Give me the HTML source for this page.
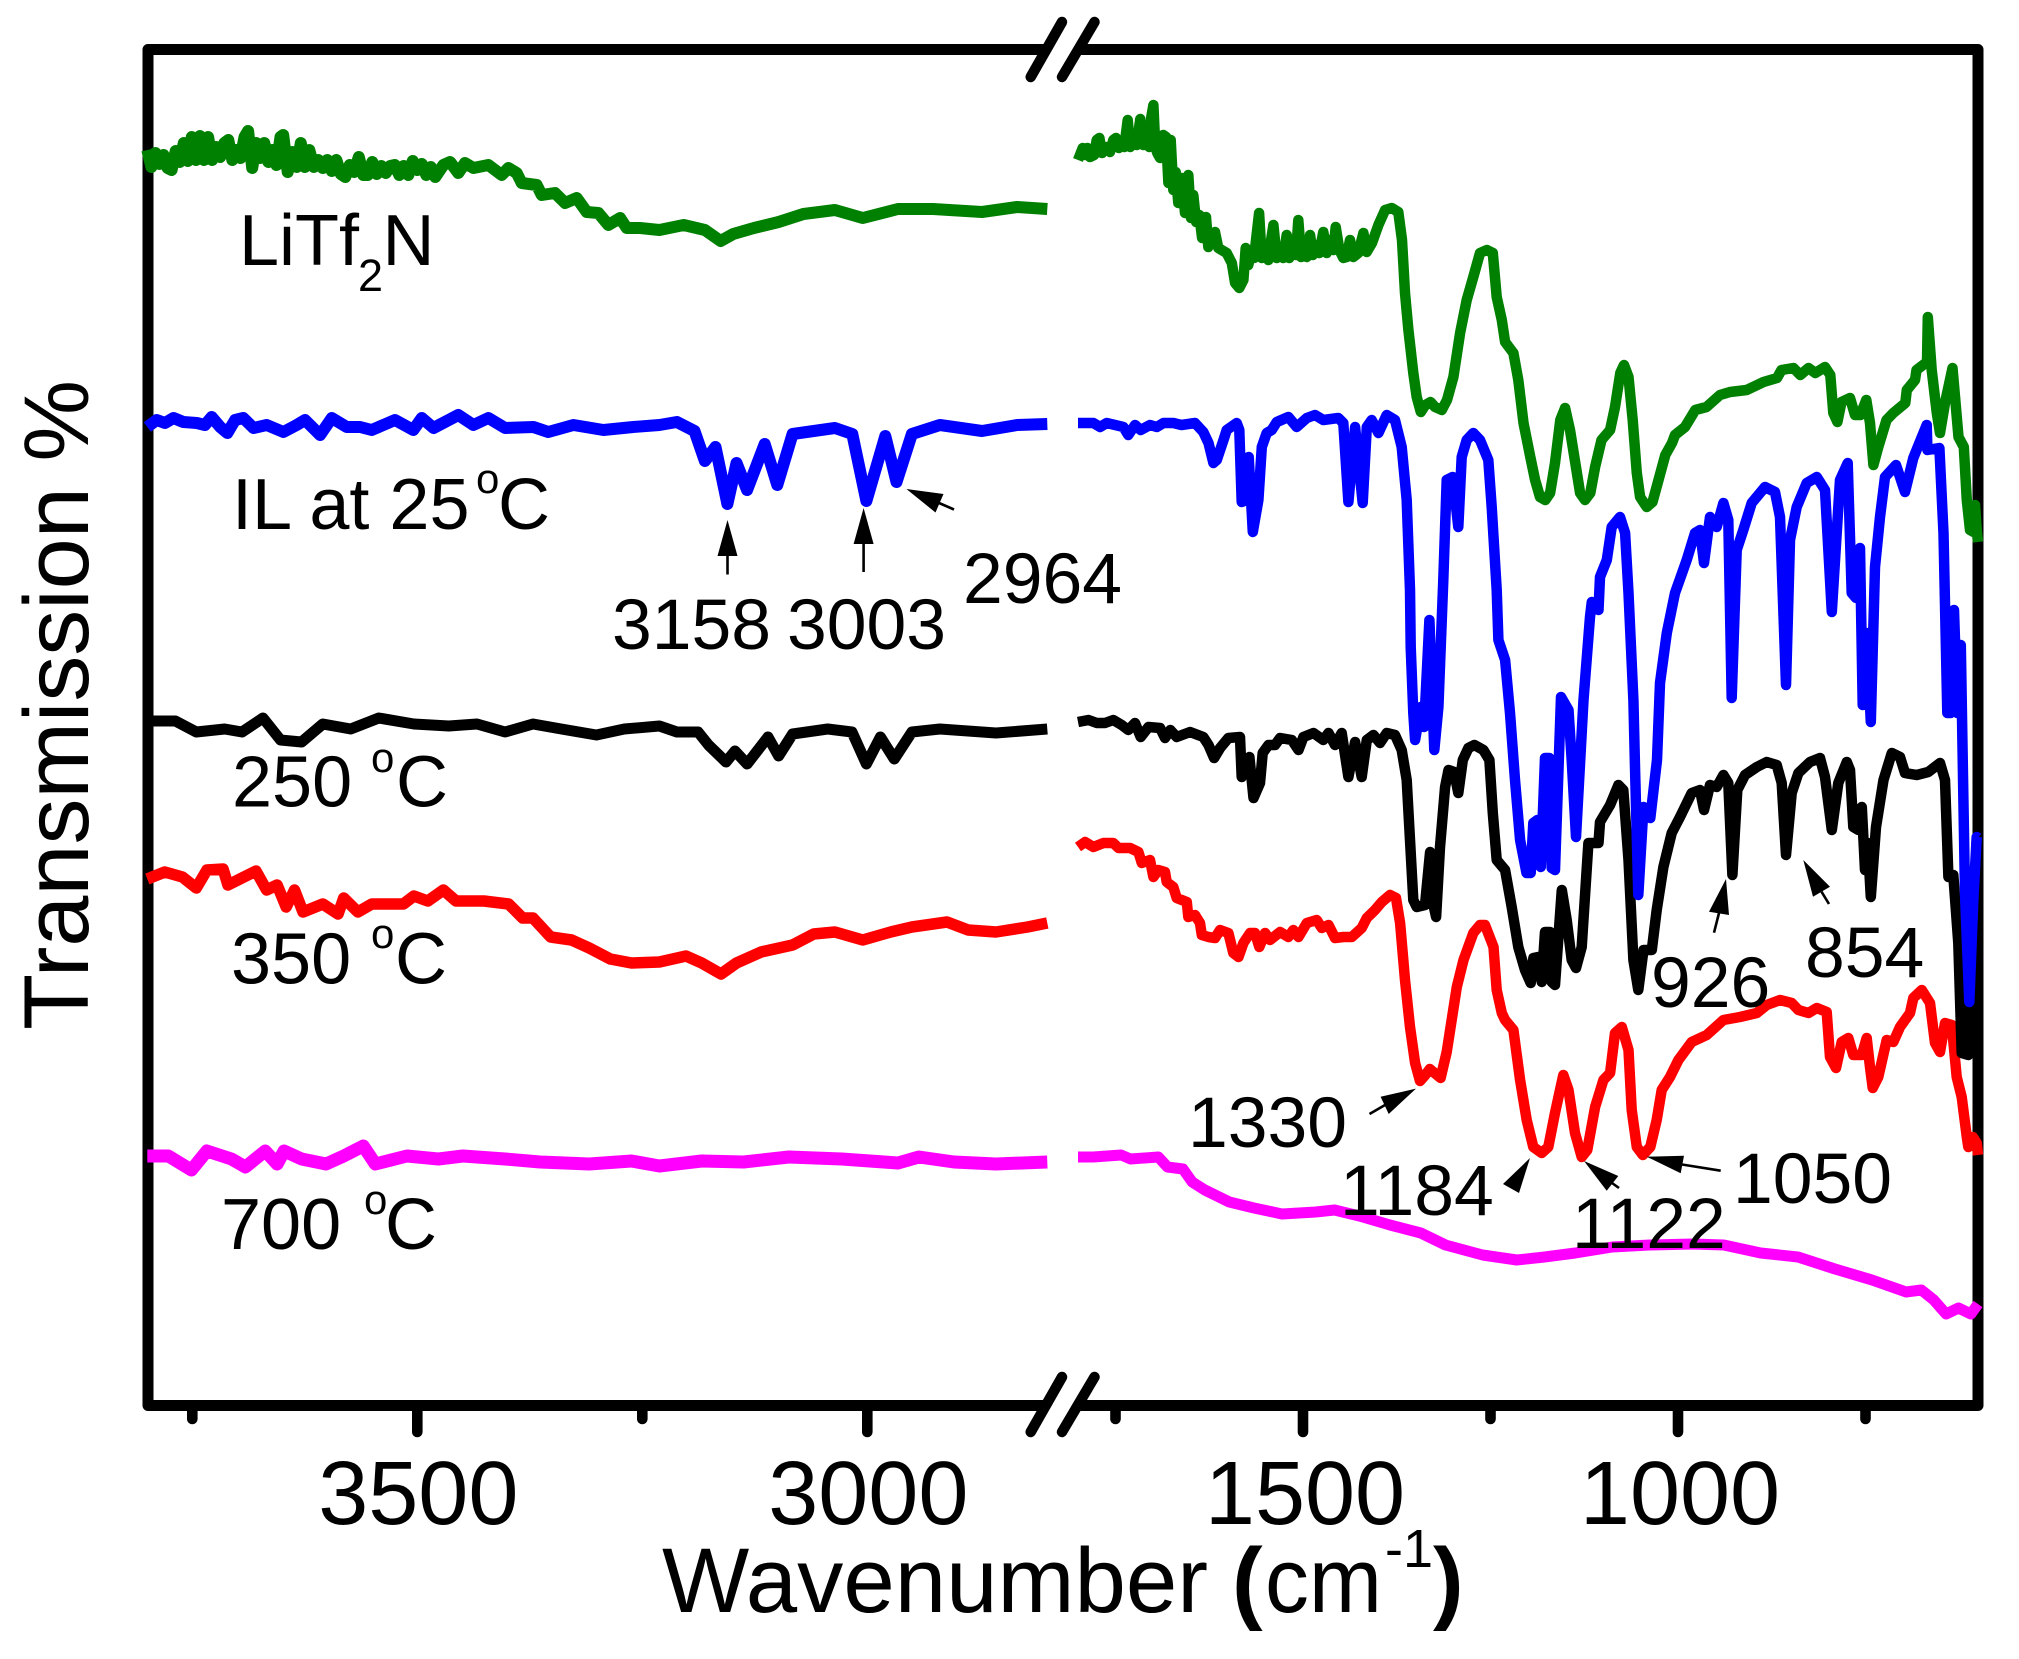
<!DOCTYPE html>
<html lang="en">
<head>
<meta charset="utf-8">
<title>FTIR spectra - Transmission vs Wavenumber</title>
<style>
html,body{margin:0;padding:0;background:#fff;}
svg{display:block;}
text{font-family:"Liberation Sans",Arial,sans-serif;fill:#000;}
.sp{fill:none;stroke-linejoin:round;stroke-linecap:butt;}
.ar{stroke:#000;stroke-width:2.6;fill:none;}
</style>
</head>
<body>
<svg id="chart" xmlns="http://www.w3.org/2000/svg" width="2019" height="1659" viewBox="0 0 2019 1659">
  <rect x="0" y="0" width="2019" height="1659" fill="#fff"/>
  <g fill="none" stroke="#000" stroke-width="11" stroke-linejoin="round">
    <path d="M1046.6 49.5H148V1405.5H1046.6"/>
    <path d="M1078 49.5H1978V1405.5H1078"/>
  </g>
  <g id="ticks"></g>
  <g stroke="#000" stroke-width="10.5" stroke-linecap="round">
    <line x1="1030.7" y1="77" x2="1062" y2="22"/>
    <line x1="1062" y1="77" x2="1094.5" y2="22"/>
    <line x1="1030.7" y1="1432" x2="1062" y2="1377"/>
    <line x1="1062" y1="1432" x2="1094.5" y2="1377"/>
  </g>
  <g id="series"></g>

  <g font-size="72">
    <g>
      <text x="239" y="265">LiTf</text>
      <text x="358" y="291" font-size="45">2</text>
      <text x="382.5" y="265">N</text>
    </g>
    <g>
      <text x="232" y="529">IL at 25</text>
      <text x="476" y="493" font-size="42">o</text>
      <text x="498" y="529">C</text>
    </g>
    <g>
      <text x="232" y="806.5">250</text>
      <text x="371" y="772" font-size="42">o</text>
      <text x="396" y="806.5">C</text>
    </g>
    <g>
      <text x="231" y="983.5">350</text>
      <text x="371" y="948" font-size="42">o</text>
      <text x="395" y="983.5">C</text>
    </g>
    <g>
      <text x="221" y="1249">700</text>
      <text x="364" y="1214" font-size="42">o</text>
      <text x="385" y="1249">C</text>
    </g>
  </g>

  <g font-size="71.5">
    <text x="612" y="649">3158</text>
    <text x="787" y="649">3003</text>
    <text x="963" y="603">2964</text>
    <text x="1651" y="1007">926</text>
    <text x="1805" y="977">854</text>
    <text x="1733" y="1203">1050</text>
    <text x="1572" y="1248">1122</text>
    <text x="1340" y="1215">1184</text>
    <text x="1188" y="1147">1330</text>

    <g><line class="ar" x1="727.5" y1="555" x2="727.5" y2="574.5"/><polygon points="727.5,520 717.5,556 737.5,556"/></g>
    <g><line class="ar" x1="863.6" y1="543" x2="863.6" y2="572"/><polygon points="863.6,508 853.6,544 873.6,544"/></g>
    <g><line class="ar" x1="939" y1="503" x2="954" y2="509.5"/><polygon points="906.4,489 935.5,512.5 943.5,494"/></g>
    <g><line class="ar" x1="1719" y1="913" x2="1714" y2="932.7"/><polygon points="1726,879 1709,911.7 1729,915"/></g>
    <g><line class="ar" x1="1821.5" y1="891.7" x2="1829" y2="904"/><polygon points="1803.3,860 1813,896.7 1830,886.7"/></g>
    <g><line class="ar" x1="1682" y1="1164.5" x2="1720.7" y2="1170.7"/><polygon points="1646.7,1156.7 1684,1155.7 1680.7,1173.3"/></g>
    <g><line class="ar" x1="1612" y1="1183" x2="1619" y2="1188"/><polygon points="1584,1161 1618.3,1176 1606.7,1190.7"/></g>
    <g><polygon points="1530,1158 1503,1184 1519,1193"/></g>
    <g><line class="ar" x1="1385" y1="1105" x2="1369.5" y2="1114"/><polygon points="1416,1088.6 1380.6,1096.7 1388.7,1114"/></g>
  </g>

  <g id="ticklabels" font-size="90"></g>

  <g font-size="92">
    <text x="662" y="1612" textLength="546" lengthAdjust="spacingAndGlyphs">Wavenumber</text>
    <text x="1232" y="1612" font-weight="700">(</text>
    <text x="1265" y="1612" textLength="117" lengthAdjust="spacingAndGlyphs">cm</text>
    <text x="1385" y="1567" font-size="54">-1</text>
    <text x="1433" y="1612" font-weight="700">)</text>
  </g>
  <text x="88" y="1030" font-size="92" textLength="650" lengthAdjust="spacingAndGlyphs" transform="rotate(-90 88 1030)">Transmission %</text>
</svg>

<script>
/* Tick values, wavenumber in cm-1 */
const highMajorTicks = [3500, 3000];
const highMinorTicks = [3750, 3250];
const lowMajorTicks = [1500, 1000];
const lowMinorTicks = [1750, 1250, 750];

/* Each series: [wavenumber, transmission (a.u.)] */
const litfHigh = [[3800,125.5],[3795.5,123.8],[3791,125.2],[3786.5,124.1],[3782,125],[3777.5,123.7],[3773,123.5],[3768.5,125.4],[3764,124.3],[3759.5,126.2],[3755,124.4],[3750.5,126.8],[3746,124.5],[3741.5,126.9],[3737,124.5],[3732.5,126.8],[3728,124.5],[3723.5,125.8],[3719,124.8],[3714.5,126.2],[3710,126.5],[3705.5,124.5],[3701,125.5],[3696.5,124.7],[3692,126.8],[3688,127.4],[3683.5,123.7],[3679,126.2],[3674.5,124.7],[3670,126.2],[3665.5,124.3],[3661,125.5],[3656.5,124],[3652,126.8],[3649,127],[3644,123.3],[3639,125.3],[3634,123.8],[3629.5,126.2],[3625,123.8],[3620,125.5],[3615,123.8],[3610,124.5],[3605,123.7],[3600,124.5],[3595,123.4],[3590,124.5],[3585,123.1],[3580,122.8],[3575,124],[3570,123.3],[3565,124.8],[3560,123],[3555,123],[3550,124.3],[3545,123.1],[3540,123.9],[3535,123.2],[3530,123.9],[3525,124],[3520,123],[3515,123.9],[3510,123],[3505,124.4],[3500,123.5],[3495,124.1],[3490,123],[3485,123.8],[3480,122.8],[3471,124],[3463.6,124.3],[3454.4,123.2],[3447,124.2],[3437.7,123.7],[3421,124],[3406.2,123],[3398.8,123.7],[3389.6,123.2],[3384,122.2],[3367.3,122],[3361.8,121],[3347,121.2],[3335.8,120.2],[3322.9,120.7],[3311.8,119.3],[3298.8,119.2],[3287.7,118],[3274.7,118.7],[3267.3,117.7],[3252.5,117.7],[3231,117.5],[3204,118],[3180.4,117.5],[3163,116.4],[3149,117.1],[3126,117.7],[3098.6,118.3],[3071,119.1],[3036,119.5],[3005,118.7],[2966,119.6],[2927,119.6],[2872.5,119.3],[2833.6,119.8],[2800,119.6]];
const litfLow = [[1800,124.5],[1793.7,125.7],[1790.2,125],[1787.5,125.7],[1784,124.8],[1778.6,125],[1775.1,126.5],[1771.5,126.7],[1768,125.2],[1762.6,125.8],[1757.3,125.3],[1752.9,126.5],[1749.3,126.7],[1745.7,125.7],[1741.7,126.3],[1738.2,125.8],[1733.7,128.5],[1730.6,125.8],[1726.2,126.8],[1721.7,126],[1716.9,128.6],[1712.9,126],[1708.4,126.5],[1704.9,125.8],[1702.2,128.8],[1699.5,130],[1696.9,125.8],[1694.2,125.2],[1690.6,124.7],[1686.2,127],[1682.6,126.8],[1679.5,122.2],[1676.4,126.5],[1672.9,121.5],[1669.7,123.3],[1666.2,120.2],[1661.8,122.7],[1657.3,119.2],[1652.9,123],[1649.3,118.7],[1646.2,121],[1642.6,118.3],[1638.2,119],[1634.6,116.7],[1629.3,118.8],[1626.2,115.8],[1620.4,116.8],[1617.3,117.3],[1612.9,115.7],[1601.7,115.2],[1595,114.2],[1590.6,112.2],[1585,111.7],[1579.5,112.5],[1576.4,115.7],[1572.9,114],[1568.4,115.5],[1565.3,114.7],[1558.6,119.2],[1555.1,114.7],[1550.6,115.8],[1546.2,114.5],[1543,116.3],[1539.5,118],[1535.1,114.7],[1530.6,115.8],[1526.2,114.7],[1521.8,117],[1518.2,114.7],[1512.9,115.8],[1509.3,115],[1506.2,118.5],[1502.6,114.8],[1498.6,115.8],[1495.1,114.8],[1490.6,117],[1487.1,115],[1482.6,116],[1478.2,115.2],[1472.9,117.3],[1468.4,115.2],[1464,116.5],[1459.5,115.5],[1456.4,117.8],[1451.5,115.5],[1446.2,114.7],[1441.8,114.8],[1437.3,116.5],[1432.9,114.8],[1426.2,115.2],[1419.5,117.2],[1415.1,115.3],[1408,116.2],[1399.5,118],[1390.6,119.5],[1381.7,119.7],[1373,119.3],[1368,116.5],[1364,111.2],[1359.5,107.5],[1353,103.2],[1348.4,100.8],[1343,99.3],[1337,100],[1330,100.3],[1324,99.8],[1315,99.5],[1308,100.5],[1299.5,102.8],[1290.6,107.2],[1281.7,110.5],[1273,112.8],[1264,115.2],[1255,115.5],[1247,115.2],[1241.8,110.8],[1235,108.5],[1230.6,106.3],[1219.5,105.2],[1213,102.5],[1206,98.2],[1197,94.8],[1190.6,92.5],[1184,90.8],[1177,90.5],[1170.6,91.2],[1164,94.2],[1157,98.5],[1150.6,99.7],[1144,97.5],[1137,94.2],[1130.6,91.2],[1124,90.5],[1117,91.2],[1110.6,93.8],[1102,96.5],[1090.6,97.5],[1084,99.8],[1077,103.2],[1072,104],[1066,102.8],[1060.4,98.5],[1055,93.2],[1050.6,90.8],[1041.7,89.8],[1034,90.3],[1026,92.5],[1017,95],[1008,96.2],[1004,97],[990.6,97.8],[977,99.5],[962,99.8],[944,101],[930.6,101.3],[908.4,101.5],[886,102.3],[868,102.7],[862,103.5],[846,103.7],[837,103],[826,103.7],[817,103.2],[804,103.8],[797,103],[793,99.2],[787.5,98.3],[782,100.3],[770.6,100.7],[764,99],[757,99],[749,100.5],[744,98.2],[739.5,94],[733,95.8],[722,98.5],[713,99.2],[697,100.2],[695,101.5],[684,102.5],[682,103.5],[668,104.3],[667,108.8],[661.8,103.5],[655,99.2],[650.6,97.2],[644,100.2],[634,103.7],[626,96.8],[619,95.8],[615,90.5],[610.6,87.5],[606,87.3],[604,90],[601.8,87.5],[600,86.3]];

const ilHigh = [[3800,97.8],[3789.6,98.5],[3780.3,98.2],[3771,98.7],[3760,98.3],[3745,98.2],[3736,98],[3728.5,98.8],[3719,97.8],[3711,97.2],[3702.5,98.5],[3693.3,98.7],[3682,97.7],[3667.3,98],[3648.8,97.3],[3634,98],[3624.8,98.5],[3608,97],[3595,98.7],[3578.4,97.8],[3563.6,97.8],[3550.7,97.5],[3524.8,98.5],[3504.4,97.5],[3495,98.7],[3482,97.7],[3454.4,99],[3437.7,98],[3421,98.7],[3402.5,97.7],[3371,97.8],[3354.4,97.3],[3326.6,98],[3293.2,97.5],[3260,97.8],[3231,98],[3211.6,98.3],[3192,97.4],[3180.4,94.4],[3168.7,95.8],[3155.4,90.1],[3145.3,94.2],[3133.6,91.5],[3114,96.1],[3100,92],[3083,97.1],[3036,97.7],[3016.7,97.1],[3001,90.4],[2980,96.9],[2967.6,92.3],[2950.5,97.1],[2919.3,98],[2872.5,97.4],[2833.6,98],[2800,98.1]];
const ilLow = [[1800,98.2],[1790.6,98.2],[1779.5,98.2],[1770.6,97.8],[1761.7,98.2],[1750.6,98],[1739.5,97.8],[1733,97],[1724,98],[1716.4,97.5],[1704,98],[1695,97.8],[1686,98.2],[1673,98.2],[1662,98],[1644,98.2],[1633,97.3],[1626,96.2],[1619.5,94.2],[1615,94.5],[1606,96.5],[1601.7,97.5],[1588.4,98.2],[1585,97.5],[1581.7,90.3],[1575,90.5],[1572.4,94.8],[1567,87.3],[1559.5,90.5],[1555,95.8],[1548.4,97.2],[1541.7,97.5],[1535,98.3],[1519.5,98.8],[1508.4,97.8],[1495,98.7],[1484,99],[1473,98.5],[1453,98.7],[1446.2,98.2],[1439.5,90.3],[1430.6,97.8],[1420.4,90.2],[1415,97.8],[1408.4,98.5],[1399.5,97.2],[1388.4,99],[1377.3,98.5],[1368.4,95.8],[1361.7,90.5],[1357.3,81.5],[1356.4,75.8],[1353,69.2],[1350.6,66.5],[1343,69.8],[1338.6,67.8],[1331.5,78.5],[1325,65.5],[1319.5,69.8],[1313,82.5],[1308.4,92.5],[1300.4,92.8],[1293,87.8],[1288.4,94.8],[1281.7,96.5],[1273,97.2],[1264,96.5],[1253,94.5],[1248.4,89.8],[1241.8,81.5],[1239.5,76.5],[1230.6,74.5],[1224,69.2],[1217.3,62.5],[1210.6,56.5],[1202,53.2],[1196.4,53.2],[1193,58.2],[1187.5,58.5],[1183,53.8],[1177.3,64.7],[1171.5,64.7],[1168.4,53.7],[1164,53.5],[1156,70.8],[1146,69.5],[1141.7,64.5],[1136,56.8],[1126,70.5],[1117.3,78.8],[1115,80.3],[1106,79.5],[1104,82.8],[1095,84.5],[1088.4,87.8],[1077.3,88.8],[1070.6,87.2],[1066,81.2],[1059.5,70.5],[1057.3,63.8],[1053,51],[1046,59.8],[1037,58.7],[1028,64.5],[1024,72.2],[1015,77.2],[1004,81.2],[988.4,84.5],[977.3,87.2],[970.6,87.5],[965.3,84.2],[957.3,88.8],[948.4,87.8],[939.5,90.2],[932.9,88.5],[928.4,70.7],[921.8,85.5],[912.9,87.5],[901.8,90.2],[884,91.8],[870.6,91.3],[864,88.8],[856,72],[850.6,86.5],[841.8,89.8],[828.4,92.2],[815,92.8],[804,91.5],[795,79.3],[784,92.5],[773.8,94.2],[768.4,81.2],[762.6,80.7],[757.3,85.7],[753.7,70],[748.4,77.2],[743,68.3],[737.3,83.8],[730.6,88.8],[724,92.8],[709.3,94],[697.3,91.3],[686.2,94.7],[668.4,98],[667.5,95.5],[651.5,95.7],[646,87.2],[640.9,69.2],[636.4,69.2],[632,79.5],[627.5,69.2],[623,76],[619.5,60.5],[617.3,51.2],[611.6,40.3],[606.2,50.5],[601.8,56.8],[600,56.7]];

const t250High = [[3800,68.4],[3792,68.4],[3768.8,68.4],[3745.5,67.3],[3714,67.6],[3694.8,67.3],[3671.4,68.7],[3652,66.5],[3628.6,66.3],[3605,68.1],[3574,67.6],[3542.8,68.7],[3503.8,68.1],[3465,67.9],[3433.7,68.1],[3402.5,67.3],[3371.4,68.1],[3340,67.6],[3301,67],[3270,67.6],[3231,67.9],[3211.6,67.3],[3188,67.3],[3176.5,66],[3157,64.3],[3147,65.4],[3133.6,64.1],[3110.3,66.8],[3098.6,64.9],[3083,67.1],[3044,67.6],[3017,67.3],[3001,64.1],[2985.5,66.8],[2970,64.6],[2950.5,67.3],[2919.3,67.6],[2857,67.2],[2800,67.6]];
const t250Low = [[1800,68.3],[1786,68.5],[1775,68.2],[1764,68.2],[1753,68.5],[1741.7,68],[1733,67.5],[1724,68.2],[1716.4,66.8],[1706,67.8],[1690.6,67.7],[1684,66.7],[1677,67.5],[1668.4,66.8],[1650.6,67.3],[1633,66.8],[1626,66],[1618.6,64.7],[1610.6,65.7],[1599.5,66.7],[1584,66.8],[1581.7,62.8],[1571.5,64.8],[1566,60.7],[1557.3,62.2],[1553.7,65.2],[1546,66],[1537.3,66],[1530.6,66.7],[1515,66.5],[1506,65.5],[1499.5,66.8],[1486,67.2],[1473,66.5],[1466,67.2],[1457.3,66],[1448.4,67.2],[1439.5,62.8],[1430.6,66.3],[1421.8,62.8],[1415,66.5],[1406,67],[1397.3,66.2],[1388.4,67.2],[1377.3,67],[1368.4,65.5],[1361.7,62.5],[1357.3,56.5],[1353,50.5],[1348.4,49.8],[1337.3,50],[1330.6,55.3],[1328.4,50.8],[1322.6,48.8],[1317.3,55.8],[1310.6,61.8],[1306,63.5],[1298.6,63.3],[1293,61.2],[1287,64.5],[1279.5,65.7],[1271.5,66],[1259.5,65.5],[1251.5,64.5],[1247,59.2],[1241.8,54.5],[1230.6,53.5],[1221.8,49.8],[1213,45.8],[1204,43.5],[1196.4,42.2],[1192.8,44.7],[1186.2,44.8],[1181.7,42.3],[1177.3,47.3],[1170.6,47.3],[1168.4,42.3],[1164,42],[1155,51.5],[1148.4,48.5],[1141.7,44.5],[1136,43.7],[1128.4,45.8],[1119.5,56.2],[1106,56.2],[1104,58.3],[1090.6,60],[1079.5,62],[1072.9,61.5],[1066,54.5],[1059.5,44.5],[1053,41.5],[1046,45.5],[1035,45.5],[1028.4,49.5],[1019.5,53.8],[1008.4,57.2],[997.3,58.8],[981.7,61.2],[970.6,61.5],[965.3,59.5],[957.3,62],[948.4,61.8],[939.5,63],[932.9,62.2],[927.5,53],[921,61.5],[910.7,63],[895,63.8],[881.8,64.3],[868.4,64],[861.8,62.2],[856,55],[848.4,61.2],[839.5,63.2],[824,64.3],[810.7,64.7],[804,62.8],[795,57.5],[786.2,62.2],[775,64.3],[770.6,63.5],[766.2,57.8],[759.5,57.5],[755,59.8],[750.6,53.5],[747,56.2],[743,50.8],[736,57.8],[726,62.5],[715,65.2],[704,64.8],[697.3,63.2],[681.8,63],[666.2,63.3],[650.6,64.2],[644,62.5],[639.5,52.8],[632.9,53],[626.2,46.2],[621.8,35.2],[613,35],[606,47.8],[601.8,56.5],[600,56.5]];

const t350High = [[3800,52.6],[3780.5,53.3],[3761,52.8],[3745.5,51.7],[3733.8,53.5],[3715.8,53.6],[3710.4,52],[3679.2,53.4],[3667.5,51.5],[3655.8,52],[3645.7,49.8],[3636.4,51.5],[3627,49.3],[3605,50.1],[3588,49.1],[3581.8,50.7],[3566,49.3],[3550.6,50.1],[3515.5,50.1],[3503.8,50.9],[3488.3,50.4],[3471,51.5],[3457,50.4],[3426,50.4],[3398.6,50.1],[3383,48.7],[3371.4,48.7],[3351.9,46.8],[3328.5,46.5],[3309,45.7],[3285.6,44.6],[3262,44.2],[3231,44.3],[3201.4,44.9],[3184,44.2],[3162.5,43.1],[3145.3,44.2],[3118,45.3],[3083,46],[3059.6,47.1],[3036,47.3],[3005,46.5],[2974,47.3],[2950.5,47.8],[2911.5,48.3],[2888,47.5],[2857,47.3],[2821.9,47.8],[2800,48.2]];
const t350Low = [[1800,55.8],[1790.6,56.3],[1779.5,55.8],[1766,56.2],[1753,56.2],[1746,55.7],[1730.6,55.7],[1719.5,55.3],[1715,54.2],[1704,54.5],[1699.5,52.8],[1693,53.5],[1684,53.3],[1681.7,52.3],[1673,51.8],[1668.4,50.7],[1655,50.3],[1652.9,48.8],[1644,49],[1637.3,48.2],[1635,47],[1626,46.8],[1617.3,46.7],[1610.6,47.5],[1599.5,47.2],[1592.9,45.2],[1586,44.8],[1579.5,46.2],[1570.6,47.2],[1564,47.2],[1558.2,45.8],[1550.6,47.2],[1544,46.5],[1530.6,47.3],[1519.5,46.8],[1512.9,47.5],[1506,46.8],[1495,48.2],[1481.7,48.5],[1475,47.7],[1466,48],[1457.3,46.7],[1446.2,46.8],[1435,46.8],[1421.8,47.7],[1415,48.7],[1404,49.5],[1395,50.3],[1384,51],[1376,50.7],[1370.6,48.2],[1364,42.5],[1357.3,37.8],[1350.6,34.2],[1344,32.4],[1337,33],[1331,33.6],[1316.5,32.7],[1308.4,35.3],[1295,41.8],[1286,44.5],[1273,47.2],[1264,48],[1257.3,48],[1246,45.8],[1241.8,41.5],[1235,39.2],[1230.6,38.5],[1219.5,37.5],[1210.6,32.5],[1201.7,28.5],[1192.9,25.8],[1181.7,25.2],[1172.9,25.8],[1164,29.2],[1152.9,33],[1146,31.5],[1137.3,27.2],[1128.4,24.8],[1120.9,25.5],[1110.6,29.8],[1099.5,32.5],[1090.6,33.2],[1084,37.2],[1075,37.8],[1066,35.5],[1061.7,29.5],[1055,25.8],[1047,25],[1037,25.8],[1028.4,28.5],[1021.7,31.5],[1010.6,32.8],[999.5,34.5],[981.7,36.3],[961.8,37],[939.5,38.5],[917.3,38.8],[895,39.2],[881.8,40],[864,40.5],[848.4,40.2],[839.5,39.5],[826,39.2],[815,39.7],[801.8,39.3],[797.3,34.8],[789.3,33.7],[781.8,36.3],[772.9,36.7],[766.2,35],[755,35],[748.4,36.7],[744,33.8],[740.4,31.7],[732.9,32.8],[721.8,36.5],[712.9,36.3],[704,37.8],[690.6,39.2],[686.2,40.7],[675,41.5],[664,40.2],[657.3,36.2],[650.6,35.3],[644,38.2],[635,38],[628.4,32.8],[621.8,30.8],[615,26.8],[612.9,25.8],[607,26.8],[601.8,26.2],[600,25]];

const t700High = [[3800,24.9],[3776.6,24.9],[3751,23.5],[3733.8,25.4],[3706.5,24.6],[3691,23.8],[3669,25.4],[3655.8,24.1],[3648,25.4],[3628.6,24.6],[3601.3,24.1],[3581.8,24.9],[3560,25.9],[3546.7,24.1],[3511.6,24.9],[3476.6,24.6],[3449.3,24.9],[3402.5,24.6],[3363.6,24.3],[3309,24.1],[3262,24.4],[3231,23.9],[3184,24.4],[3137.5,24.3],[3087,24.8],[3028.4,24.6],[2966,24.2],[2942.7,24.8],[2903.7,24.3],[2857,24.1],[2800,24.3]];
const t700Low = [[1800,24.8],[1779.6,24.8],[1742.5,25],[1730,24.6],[1693,24.8],[1680.7,23.8],[1660,23.6],[1647.8,22.3],[1631,21.5],[1598.3,20.3],[1565.3,19.7],[1528,19.1],[1483,19.3],[1458,19.5],[1425,18.9],[1384,18],[1343,17.2],[1310,16],[1260.5,15],[1215,14.5],[1178,14.8],[1137,15.2],[1087.5,15.8],[1038,16],[980.3,16.1],[939,16],[889.7,15.2],[840,14.8],[790.7,13.6],[741.4,12.5],[696,11.3],[675.5,11.5],[659,10.5],[642.5,9.1],[626,9.7],[609.5,9.1],[600,10.1]];

/* Axis functions */
function xHigh(w) { return 417.3 + (3500 - w) * 0.9; }
function xLow(w) { return 1303 + (1500 - w) * 0.75; }
function yT(t) { return 1405 - t * 10; }

const SVG_NS = 'http://www.w3.org/2000/svg';
const seriesGroup = document.getElementById('series');
const tickGroup = document.getElementById('ticks');
const tickLabelGroup = document.getElementById('ticklabels');

function drawSeries(name, color, pts, xFn, width) {
  const el = document.createElementNS(SVG_NS, 'path');
  
  
  el.setAttribute('class', 'sp');
  el.setAttribute('stroke', color);
  el.setAttribute('stroke-width', width);
  el.setAttribute('d', pts.map(function (p, i) {
    return (i ? 'L' : 'M') + xFn(p[0]).toFixed(1) + ' ' + yT(p[1]).toFixed(1);
  }).join(''));
  seriesGroup.appendChild(el);
}

function drawTick(value, xFn, bottom) {
  const el = document.createElementNS(SVG_NS, 'line');
  
  
  el.setAttribute('x1', xFn(value));
  el.setAttribute('x2', xFn(value));
  el.setAttribute('y1', 1406);
  el.setAttribute('y2', bottom);
  el.setAttribute('stroke', '#000');
  el.setAttribute('stroke-width', '10.6');
  el.setAttribute('stroke-linecap', 'round');
  tickGroup.appendChild(el);
}

function drawTickLabel(value, xFn, shift) {
  const el = document.createElementNS(SVG_NS, 'text');
  
  
  el.setAttribute('x', xFn(value) + shift);
  el.setAttribute('y', 1524);
  el.setAttribute('text-anchor', 'middle');
  el.textContent = String(value);
  tickLabelGroup.appendChild(el);
}

highMajorTicks.forEach(function (v) { drawTick(v, xHigh, 1432); drawTickLabel(v, xHigh, 1); });
highMinorTicks.forEach(function (v) { drawTick(v, xHigh, 1419); });
lowMajorTicks.forEach(function (v) { drawTick(v, xLow, 1432); drawTickLabel(v, xLow, 2); });
lowMinorTicks.forEach(function (v) { drawTick(v, xLow, 1419); });

drawSeries('series-350c-high', '#ff0000', t350High, xHigh, 11.5);
drawSeries('series-350c-low', '#ff0000', t350Low, xLow, 10.5);
drawSeries('series-700c-high', '#ff00ff', t700High, xHigh, 13);
drawSeries('series-700c-low', '#ff00ff', t700Low, xLow, 11);
drawSeries('series-250c-high', '#000000', t250High, xHigh, 11);
drawSeries('series-250c-low', '#000000', t250Low, xLow, 10.5);
drawSeries('series-il-25c-high', '#0000ff', ilHigh, xHigh, 12);
drawSeries('series-il-25c-low', '#0000ff', ilLow, xLow, 10.5);
drawSeries('series-litf2n-high', '#008000', litfHigh, xHigh, 12);
drawSeries('series-litf2n-low', '#008000', litfLow, xLow, 10.5);
</script>
</body>
</html>
